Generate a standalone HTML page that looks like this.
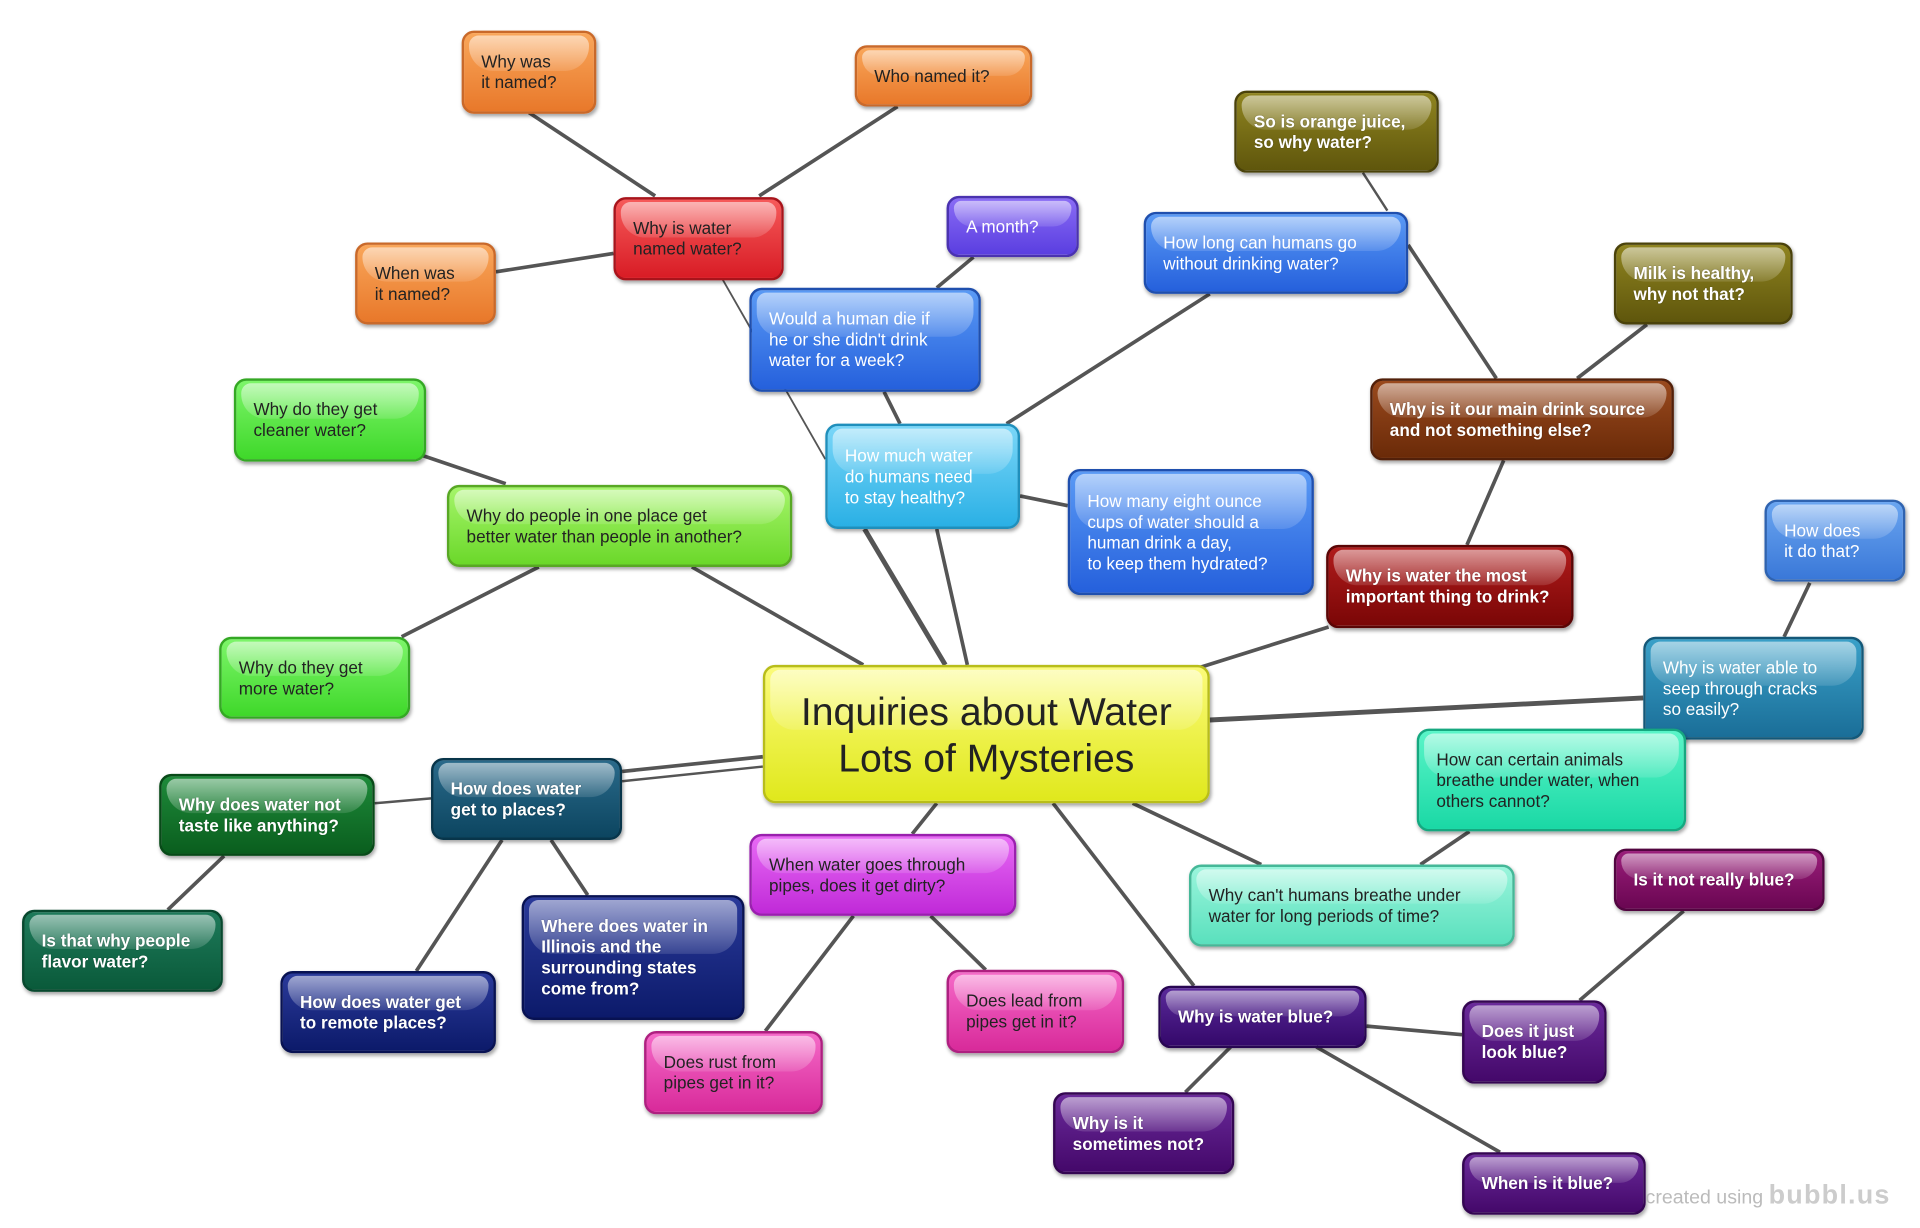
<!DOCTYPE html>
<html><head><meta charset="utf-8"><style>
html,body{margin:0;padding:0;background:#fff;width:1920px;height:1228px;overflow:hidden}
#w{position:absolute;left:0;top:0;width:1568px;height:1003px;transform:scale(1.2245);transform-origin:0 0;font-family:"Liberation Sans",Arial,sans-serif}
svg{position:absolute;left:0;top:0}
.n{position:absolute;box-sizing:border-box;border-radius:10px;padding:0 14px;display:flex;flex-direction:column;justify-content:center;font-size:14px;line-height:17px;box-shadow:1px 2px 3px rgba(0,0,0,.35);overflow:hidden}
.n::before{content:"";position:absolute;left:4px;right:4px;top:2px;height:45%;border-radius:8px 8px 20px 20px;background:linear-gradient(rgba(255,255,255,.55),rgba(255,255,255,.12))}
.n span{position:relative}
.d{color:#fff;font-weight:bold;text-shadow:0 0 1px rgba(0,0,0,.4)}
.l{color:#222}
.wm{position:absolute;right:24px;bottom:14px;color:#bbb;font-size:16px}
.wm b{font-size:22px;color:#ccc;letter-spacing:1px}
</style></head><body><div id="w">
<svg width="1568" height="1003" stroke="#555" stroke-width="3" fill="none">
<line x1="432" y1="92" x2="535" y2="160"/><line x1="733" y1="87" x2="620" y2="160"/><line x1="405" y1="222" x2="501" y2="207"/>
<line x1="590" y1="228" x2="674" y2="375" stroke-width="1.5"/>
<line x1="1113" y1="141" x2="1133" y2="172" stroke-width="2"/><line x1="1150" y1="200" x2="1222" y2="309"/>
<line x1="1345" y1="265" x2="1288" y2="309"/><line x1="1228" y1="376" x2="1198" y2="445"/>
<line x1="795" y1="210" x2="765" y2="235"/><line x1="722" y1="320" x2="735" y2="346"/>
<line x1="988" y1="240" x2="822" y2="346"/><line x1="833" y1="405" x2="872" y2="413"/>
<line x1="706" y1="432" x2="772" y2="543" stroke-width="4"/><line x1="765" y1="432" x2="790" y2="543"/>
<line x1="345" y1="372" x2="413" y2="395"/><line x1="440" y1="463" x2="328" y2="520"/><line x1="565" y1="463" x2="705" y2="543"/>
<line x1="1085" y1="512" x2="980" y2="545"/><line x1="1478" y1="476" x2="1457" y2="520"/>
<line x1="1342" y1="570" x2="988" y2="588" stroke-width="4"/>
<line x1="623" y1="618" x2="508" y2="630" stroke-width="3"/><line x1="623" y1="626" x2="508" y2="638" stroke-width="2"/>
<line x1="306" y1="656" x2="352" y2="652" stroke-width="2"/><line x1="183" y1="699" x2="137" y2="743"/>
<line x1="410" y1="686" x2="340" y2="793"/><line x1="450" y1="686" x2="480" y2="731"/>
<line x1="765" y1="656" x2="745" y2="681"/><line x1="697" y1="748" x2="625" y2="842"/><line x1="760" y1="748" x2="805" y2="792"/>
<line x1="925" y1="656" x2="1030" y2="706"/><line x1="1200" y1="679" x2="1160" y2="706"/>
<line x1="860" y1="656" x2="975" y2="805"/><line x1="1116" y1="838" x2="1194" y2="845"/>
<line x1="1375" y1="744" x2="1290" y2="817"/><line x1="1005" y1="855" x2="968" y2="892"/><line x1="1075" y1="855" x2="1225" y2="941"/>
</svg>
<div class="n l" style="left:377px;top:25px;width:110px;height:68px;background:linear-gradient(#f9a65a,#e8782a);border:2px solid #c9692a"><span>Why was<br>it named?</span></div>
<div class="n l" style="left:698px;top:37px;width:145px;height:50px;background:linear-gradient(#f9a65a,#e8782a);border:2px solid #c9692a"><span>Who named it?</span></div>
<div class="n l" style="left:501px;top:161px;width:139px;height:68px;background:linear-gradient(#f65a5a,#d81c25);border:2px solid #a8141b"><span>Why is water<br>named water?</span></div>
<div class="n l" style="left:290px;top:198px;width:115px;height:67px;background:linear-gradient(#f9a65a,#e8782a);border:2px solid #c9692a"><span>When was<br>it named?</span></div>
<div class="n d" style="left:1008px;top:74px;width:167px;height:67px;background:linear-gradient(#8f8420,#5f560c);border:2px solid #4a420a"><span>So is orange juice,<br>so why water?</span></div>
<div class="n l" style="left:773px;top:160px;width:108px;height:50px;background:linear-gradient(#8a6cf5,#5a3ee0);border:2px solid #4a32b0;color:#fff"><span>A month?</span></div>
<div class="n l" style="left:934px;top:173px;width:216px;height:67px;background:linear-gradient(#5a9af5,#2560dc);border:2px solid #1f4fae;color:#fff"><span>How long can humans go<br>without drinking water?</span></div>
<div class="n d" style="left:1318px;top:198px;width:146px;height:67px;background:linear-gradient(#8f8420,#5f560c);border:2px solid #4a420a"><span>Milk is healthy,<br>why not that?</span></div>
<div class="n l" style="left:612px;top:235px;width:189px;height:85px;background:linear-gradient(#5a9af5,#2560dc);border:2px solid #1f4fae;color:#fff"><span>Would a human die if<br>he or she didn't drink<br>water for a week?</span></div>
<div class="n l" style="left:191px;top:309px;width:157px;height:68px;background:linear-gradient(#7df56a,#3fd82a);border:2px solid #34a824"><span>Why do they get<br>cleaner water?</span></div>
<div class="n d" style="left:1119px;top:309px;width:248px;height:67px;background:linear-gradient(#9a4a1e,#6a2a08);border:2px solid #52200a"><span>Why is it our main drink source<br>and not something else?</span></div>
<div class="n l" style="left:674px;top:346px;width:159px;height:86px;background:linear-gradient(#7ad6f8,#2ab0e5);border:2px solid #1f8fbc;color:#fff"><span>How much water<br>do humans need<br>to stay healthy?</span></div>
<div class="n l" style="left:872px;top:383px;width:201px;height:103px;background:linear-gradient(#5a9af5,#2560dc);border:2px solid #1f4fae;color:#fff"><span>How many eight ounce<br>cups of water should a<br>human drink a day,<br>to keep them hydrated?</span></div>
<div class="n l" style="left:365px;top:396px;width:282px;height:67px;background:linear-gradient(#a5f56a,#6bd82a);border:2px solid #58a824"><span>Why do people in one place get<br>better water than people in another?</span></div>
<div class="n d" style="left:1083px;top:445px;width:202px;height:68px;background:linear-gradient(#b01c1c,#7a0606);border:2px solid #5a0505"><span>Why is water the most<br>important thing to drink?</span></div>
<div class="n l" style="left:1441px;top:408px;width:115px;height:67px;background:linear-gradient(#6aa5f0,#3a78d8);border:2px solid #2f63b0;color:#fff"><span>How does<br>it do that?</span></div>
<div class="n l" style="left:179px;top:520px;width:156px;height:67px;background:linear-gradient(#7df56a,#3fd82a);border:2px solid #34a824"><span>Why do they get<br>more water?</span></div>
<div class="n" style="left:623px;top:543px;width:365px;height:113px;background:linear-gradient(#fbfb7a,#e0e81c);border:2px solid #b8bd1a;color:#222;font-size:32px;line-height:38px;text-align:center;align-items:center"><span>Inquiries about Water<br>Lots of Mysteries</span></div>
<div class="n l" style="left:1342px;top:520px;width:180px;height:84px;background:linear-gradient(#3aa0c8,#1a6e98);border:2px solid #145878;color:#fff"><span>Why is water able to<br>seep through cracks<br>so easily?</span></div>
<div class="n l" style="left:1157px;top:595px;width:220px;height:84px;background:linear-gradient(#5af5c8,#1ad8a5);border:2px solid #16a880"><span>How can certain animals<br>breathe under water, when<br>others cannot?</span></div>
<div class="n d" style="left:130px;top:632px;width:176px;height:67px;background:linear-gradient(#1e8a3a,#0a5e1e);border:2px solid #084a18"><span>Why does water not<br>taste like anything?</span></div>
<div class="n d" style="left:352px;top:619px;width:156px;height:67px;background:linear-gradient(#2a6a8a,#0c4560);border:2px solid #08354a"><span>How does water<br>get to places?</span></div>
<div class="n l" style="left:612px;top:681px;width:218px;height:67px;background:linear-gradient(#e86af5,#c02ad8);border:2px solid #9a20ae"><span>When water goes through<br>pipes, does it get dirty?</span></div>
<div class="n l" style="left:971px;top:706px;width:266px;height:67px;background:linear-gradient(#9af5dc,#5ae0bd);border:2px solid #45b898"><span>Why can't humans breathe under<br>water for long periods of time?</span></div>
<div class="n d" style="left:1318px;top:693px;width:172px;height:51px;background:linear-gradient(#9a1e7a,#6a0652);border:2px solid #520540"><span>Is it not really blue?</span></div>
<div class="n d" style="left:18px;top:743px;width:164px;height:67px;background:linear-gradient(#1e7a5a,#0a5a3a);border:2px solid #08482e"><span>Is that why people<br>flavor water?</span></div>
<div class="n d" style="left:426px;top:731px;width:182px;height:102px;background:linear-gradient(#2a3a9a,#0c1a6a);border:2px solid #081252"><span>Where does water in<br>Illinois and the<br>surrounding states<br>come from?</span></div>
<div class="n d" style="left:229px;top:793px;width:176px;height:67px;background:linear-gradient(#2a3a9a,#0c1a6a);border:2px solid #081252"><span>How does water get<br>to remote places?</span></div>
<div class="n l" style="left:773px;top:792px;width:145px;height:68px;background:linear-gradient(#f56ac8,#d82a9a);border:2px solid #ae2080"><span>Does lead from<br>pipes get in it?</span></div>
<div class="n d" style="left:946px;top:805px;width:170px;height:51px;background:linear-gradient(#5a2a9a,#34086a);border:2px solid #280652"><span>Why is water blue?</span></div>
<div class="n d" style="left:1194px;top:817px;width:118px;height:68px;background:linear-gradient(#6a2a9a,#44086a);border:2px solid #340652"><span>Does it just<br>look blue?</span></div>
<div class="n l" style="left:526px;top:842px;width:146px;height:68px;background:linear-gradient(#f56ac8,#d82a9a);border:2px solid #ae2080"><span>Does rust from<br>pipes get in it?</span></div>
<div class="n d" style="left:860px;top:892px;width:148px;height:67px;background:linear-gradient(#6a2a9a,#44086a);border:2px solid #340652"><span>Why is it<br>sometimes not?</span></div>
<div class="n d" style="left:1194px;top:941px;width:150px;height:51px;background:linear-gradient(#6a2a9a,#44086a);border:2px solid #340652"><span>When is it blue?</span></div>
<div class="wm">created using <b>bubbl.us</b></div>
</div></body></html>
